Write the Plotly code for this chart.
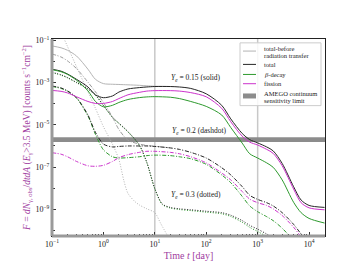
import plotly.graph_objects as go

# ---------------- data ----------------
T = [0.1, 0.15, 0.2, 0.3, 0.5, 0.7, 1, 1.5, 2, 3, 5, 7, 10, 20, 30, 50, 100, 200, 300,
     500, 700, 1000, 1500, 2000, 3000, 5000, 7000, 10000, 20000]
T_BEFORE = [0.1, 0.15, 0.2, 0.3, 0.5, 0.7, 1, 1.5, 2, 3, 5, 7, 10, 20]

# Ye = 0.15 (solid)
total_015 = [4.2e-3, 3.4e-3, 2.5e-3, 1.4e-3, 6.1e-4, 2.6e-4, 1.9e-4, 2.3e-4, 3.5e-4, 4.9e-4, 5.7e-4,
             6.1e-4, 6.4e-4, 6.4e-4, 6.1e-4, 5.2e-4, 2.9e-4, 8.3e-5, 1.9e-5, 3.9e-6, 2.0e-6, 1.4e-6,
             9.0e-7, 5.9e-7, 1.5e-7, 1.2e-8, 2.8e-9, 1.56e-9, 1.26e-9]
beta_015 = [4.0e-3, 3.2e-3, 2.4e-3, 1.27e-3, 4.0e-4, 1.26e-4, 7.1e-5, 8.3e-5, 1.13e-4, 1.56e-4, 1.92e-4,
            2.07e-4, 2.13e-4, 2.0e-4, 1.73e-4, 1.26e-4, 7.4e-5, 2.9e-5, 7.4e-6, 1.37e-6, 4.3e-7, 2.7e-7,
            1.59e-7, 9.9e-8, 2.5e-8, 2.2e-9, 7.1e-10, 3.8e-10, 2.3e-10]
fission_015 = [4.2e-4, 3.8e-4, 3.2e-4, 2.1e-4, 1.26e-4, 1.02e-4, 1.02e-4, 1.26e-4, 1.73e-4, 2.6e-4, 3.4e-4,
               3.9e-4, 4.1e-4, 4.1e-4, 3.9e-4, 3.3e-4, 2.1e-4, 6.0e-5, 1.39e-5, 2.9e-6, 1.52e-6, 1.11e-6,
               6.9e-7, 4.5e-7, 1.16e-7, 9.3e-9, 2.1e-9, 1.2e-9, 9.7e-10]
before_015 = [5.3e-2, 4.3e-2, 3.3e-2, 1.77e-2, 4.2e-3, 1.4e-3, 8.8e-4, 8.2e-4, 8.0e-4, 7.7e-4, 7.3e-4,
              6.9e-4, 6.6e-4, 6.4e-4]

# Ye = 0.2 (dashdot)
total_02 = [6.8e-4, 5.5e-4, 4.0e-4, 1.92e-4, 2.9e-5, 4.4e-6, 1.23e-6, 9.0e-7, 9.5e-7, 1.0e-6, 1.0e-6,
            1.0e-6, 9.5e-7, 8.1e-7, 6.9e-7, 5.0e-7, 2.7e-7, 9.4e-8, 4.3e-8, 1.21e-8, 4.7e-9, 3.0e-9,
            2.1e-9, 1.48e-9, 7.1e-10, 2.0e-10, 7.0e-11, 2.4e-11, 6.9e-12]
beta_02 = [6.4e-4, 5.2e-4, 3.8e-4, 1.82e-4, 2.6e-5, 3.5e-6, 6.6e-7, 3.1e-7, 2.7e-7, 2.8e-7, 3.1e-7,
           3.5e-7, 3.7e-7, 3.5e-7, 3.1e-7, 2.5e-7, 1.36e-7, 4.3e-8, 1.84e-8, 4.2e-9, 1.48e-9, 7.9e-10,
           4.6e-10, 3.0e-10, 1.31e-10, 3.4e-11, 1.18e-11, 4.1e-12, 8.5e-13]
fission_02 = [4.8e-7, 4.1e-7, 3.1e-7, 1.86e-7, 1.16e-7, 1.10e-7, 1.22e-7, 1.86e-7, 2.8e-7, 3.9e-7, 5.0e-7,
              5.6e-7, 5.6e-7, 5.0e-7, 4.3e-7, 3.1e-7, 1.59e-7, 5.3e-8, 2.5e-8, 7.1e-9, 3.1e-9, 2.1e-9,
              1.56e-9, 1.08e-9, 5.2e-10, 1.46e-10, 5.1e-11, 1.8e-11, 5.0e-12]
before_02 = [2.2e-2, 1.59e-2, 1.04e-2, 4.5e-3, 1.03e-3, 3.6e-4, 1.13e-4, 2.3e-5, 6.0e-6, 1.88e-6, 1.23e-6,
             1.05e-6, 9.7e-7, 8.1e-7]

# Ye = 0.3 (dotted)
T_03 = [0.1, 0.15, 0.2, 0.3, 0.5, 0.7, 1, 1.5, 2, 3, 5, 7, 10, 14, 20, 30, 50, 100, 200, 300, 500,
        700, 1000, 1500, 2000, 3000]
total_03 = [3.0e-3, 2.3e-3, 1.7e-3, 1.0e-3, 5.0e-4, 2.6e-4, 8.3e-5, 2.3e-5, 1.2e-5, 4.8e-6, 1.11e-6,
            1.67e-7, 9.8e-9, 1.82e-9, 1.26e-9, 1.08e-9, 9.7e-10, 8.3e-10, 7.1e-10, 5.4e-10, 3.0e-10,
            1.80e-10, 1.18e-10, 7.0e-11, 4.6e-11, 2.4e-11]
beta_03 = [2.9e-3, 2.2e-3, 1.65e-3, 9.7e-4, 4.8e-4, 2.5e-4, 8.0e-5, 2.2e-5, 1.15e-5, 4.6e-6, 1.06e-6,
           1.6e-7, 9.4e-9, 1.72e-9, 1.18e-9, 1.0e-9, 8.9e-10, 7.5e-10, 6.3e-10, 4.7e-10, 2.5e-10,
           1.45e-10, 9.2e-11, 5.3e-11, 3.4e-11, 1.7e-11]
T_03_BEFORE = [0.1, 0.15, 0.2, 0.3, 0.5, 0.7, 1, 1.5, 2, 2.5, 3, 4, 5, 7, 10, 13, 20]
before_03 = [2.1, 0.24, 5.0e-2, 5.5e-3, 3.6e-4, 6.0e-5, 8.2e-6, 1.23e-6, 2.3e-7, 2.3e-8, 5.8e-9, 2.5e-9,
             1.64e-9, 1.08e-9, 7.1e-10, 2.2e-10, 3.4e-11]

# AMEGO continuum sensitivity band
amego_t = [0.08, 3.0e4]
amego_hi = [2.6e-6, 2.6e-6]
amego_lo = [1.52e-6, 1.52e-6]

# reference times (vertical guide lines)
guide_t = [10, 1000]

x_ticks = [0.1, 1, 10, 100, 1000, 10000]
x_ticktext = ["10<sup>−1</sup>", "10<sup>0</sup>", "10<sup>1</sup>", "10<sup>2</sup>",
              "10<sup>3</sup>", "10<sup>4</sup>"]
y_ticks = [1e-1, 1e-3, 1e-5, 1e-7, 1e-9]
y_ticktext = ["10<sup>−1</sup>", "10<sup>−3</sup>", "10<sup>−5</sup>", "10<sup>−7</sup>",
              "10<sup>−9</sup>"]

legend_labels = ["total-before", "radiation transfer", "total", "<i>β</i>-decay", "fission",
                 "AMEGO continuum", "sensitivity limit"]

# ---------------- styles ----------------
C_BEFORE = "#b4b4b4"
C_TOTAL = "#262626"
C_BETA = "#2e9a2e"
C_FISSION = "#cc33cc"
C_BAND = "#8c8c8c"
C_LABEL = "#a03ca0"
FONT = "Liberation Serif"
DASHDOT = "4px,1.6px,1px,1.6px"
DOT = "1px,1.6px"

fig = go.Figure()

# guide lines
for gt in guide_t:
    fig.add_trace(go.Scatter(x=[gt, gt], y=[1e-12, 10], mode="lines",
                             line=dict(color="#c8c8c8", width=1.5), showlegend=False,
                             hoverinfo="skip"))

# AMEGO band
fig.add_trace(go.Scatter(x=amego_t, y=amego_lo, mode="lines", line=dict(width=0, color=C_BAND),
                         showlegend=False, hoverinfo="skip"))
fig.add_trace(go.Scatter(x=amego_t, y=amego_hi, mode="lines", line=dict(width=0, color=C_BAND),
                         fill="tonexty", fillcolor=C_BAND, showlegend=False, hoverinfo="skip"))


def curve(x, y, color, dash, width=1.0):
    fig.add_trace(go.Scatter(x=x, y=y, mode="lines", showlegend=False,
                             line=dict(color=color, width=width, dash=dash, shape="spline",
                                       smoothing=0.8)))


# Ye = 0.3 dotted
curve(T_03_BEFORE, before_03, C_BEFORE, DOT)
curve(T_03, beta_03, C_BETA, DOT)
curve(T_03, total_03, C_TOTAL, DOT)
# Ye = 0.2 dashdot
curve(T_BEFORE, before_02, "#9a9a9a", DASHDOT)
curve(T, beta_02, C_BETA, DASHDOT)
curve(T, fission_02, C_FISSION, DASHDOT)
curve(T, total_02, C_TOTAL, DASHDOT)
# Ye = 0.15 solid
curve(T_BEFORE, before_015, C_BEFORE, "solid")
curve(T, total_015, C_TOTAL, "solid")
curve(T, beta_015, C_BETA, "solid")
curve(T, fission_015, C_FISSION, "solid")

axis_common = dict(type="log", showgrid=False, zeroline=False, showline=True, mirror=True,
                   linecolor="#222", linewidth=1, ticks="inside", ticklen=4, tickcolor="#333",
                   tickfont=dict(family=FONT, size=8, color="#222"))

minor_x = [m * 10 ** e for e in range(-1, 5) for m in range(2, 10)]

# ---- legend drawn in paper coordinates (matplotlib-like compact box) ----
PW, PH, L, TOP = 273.0, 204.0, 44.0, 31.0


def px(x):
    return (x - L) / PW


def py(y):
    return 1 - (y - TOP) / PH


shapes = [
    dict(type="line", xref="paper", yref="paper", x0=0, x1=0, y0=0, y1=1,
         line=dict(color="#9a9a9a", width=3)),
    dict(type="line", xref="paper", yref="paper", x0=0, x1=1, y0=0, y1=0,
         line=dict(color="#9a9a9a", width=3)),
    dict(type="rect", xref="paper", yref="paper", x0=px(232), x1=px(313), y0=py(100), y1=py(35),
         fillcolor="rgba(255,255,255,0.85)", line=dict(color="#cccccc", width=1)),
]
sample_rows = [(43.5, C_BEFORE, 1), (57.3, C_TOTAL, 1), (67.7, C_BETA, 1), (77.3, C_FISSION, 1),
               (90.0, C_BAND, 5)]
for yy, col, w in sample_rows:
    shapes.append(dict(type="line", xref="paper", yref="paper", x0=px(235), x1=px(248),
                       y0=py(yy), y1=py(yy), line=dict(color=col, width=w)))

text_rows = [40.7, 47.7, 57.3, 67.7, 77.3, 87.3, 94.3]
annotations = [
    dict(x=px(254), y=py(yy), xref="paper", yref="paper", xanchor="left", yanchor="middle",
         showarrow=False, text=lab, font=dict(family=FONT, size=6.5, color="#222"))
    for yy, lab in zip(text_rows, legend_labels)
]
annotations += [
    dict(x=1.80, y=-2.80, xref="x", yref="y", showarrow=False,
         text="<i>Y<sub>e</sub></i> = 0.15 (solid)", font=dict(family=FONT, size=7.5, color="#222")),
    dict(x=1.86, y=-5.30, xref="x", yref="y", showarrow=False,
         text="<i>Y<sub>e</sub></i> = 0.2 (dashdot)", font=dict(family=FONT, size=7.5, color="#222")),
    dict(x=1.80, y=-8.32, xref="x", yref="y", showarrow=False,
         text="<i>Y<sub>e</sub></i> = 0.3 (dotted)", font=dict(family=FONT, size=7.5, color="#222")),
]

fig.update_layout(
    width=352, height=264,
    margin=dict(l=44, r=35, t=31, b=29),
    paper_bgcolor="white", plot_bgcolor="white",
    showlegend=False,
    font=dict(family=FONT, size=8, color="#222"),
    xaxis=dict(axis_common, range=[-1, 4.31], tickvals=x_ticks, ticktext=x_ticktext,
               minor=dict(tickvals=minor_x, ticks="inside", ticklen=2, tickcolor="#333"),
               title=dict(text="Time <i>t</i> [day]", font=dict(family=FONT, size=10, color=C_LABEL),
                          standoff=4)),
    yaxis=dict(axis_common, range=[-10.25, -0.95], tickvals=y_ticks, ticktext=y_ticktext,
               minor=dict(tickvals=[1e-2, 1e-4, 1e-6, 1e-8, 1e-10], ticks="inside", ticklen=3,
                          tickcolor="#333"),
               title=dict(text="<i>F</i> = <i>dN</i><sub>γ, obs</sub>/<i>dtdA</i> (<i>E</i><sub>γ</sub>&gt;3.5 MeV)"
                               " [counts s<sup>−1</sup>cm<sup>−2</sup>]",
                          font=dict(family=FONT, size=9.5, color=C_LABEL), standoff=3)),
    shapes=shapes,
    annotations=annotations,
)

fig.write_html("out.html")
